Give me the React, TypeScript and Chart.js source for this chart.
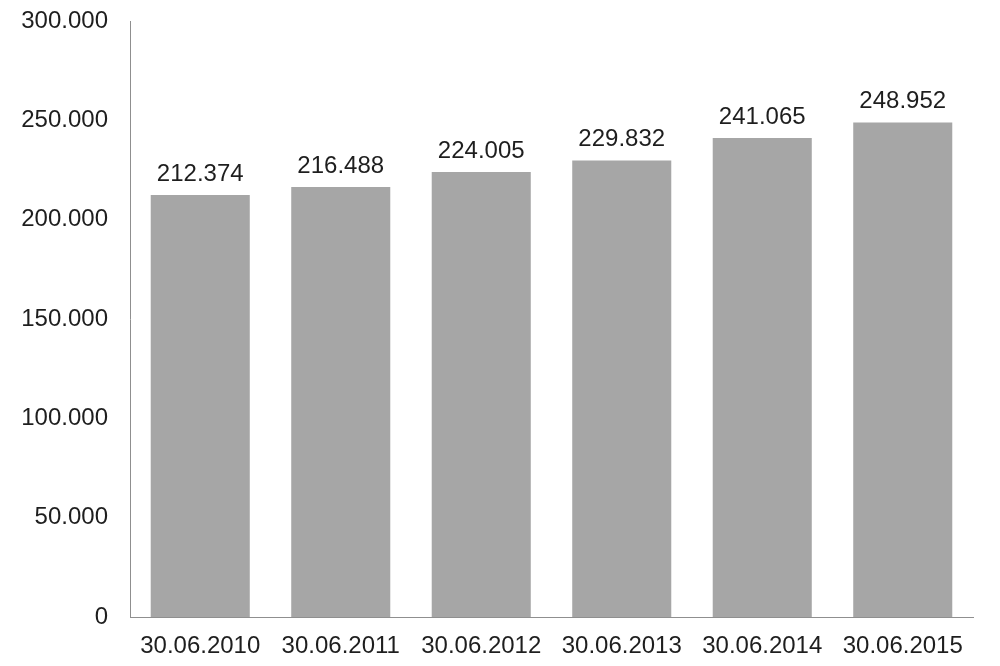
import React, { useEffect, useRef } from "react";
import { Chart, registerables } from "chart.js";

Chart.register(...registerables);

const categories = ["30.06.2010", "30.06.2011", "30.06.2012", "30.06.2013", "30.06.2014", "30.06.2015"];
const values = [212374, 216488, 224005, 229832, 241065, 248952];
const yMax = 300000;
const yStep = 50000;

const fmt = (v: number) => {
  const s = Math.round(v).toString();
  return s.replace(/\B(?=(\d{3})+(?!\d))/g, ".");
};

const FONT = "'Liberation Sans', Arial, sans-serif";
const TEXT = "#1e1e1e";

const dataLabels = {
  id: "dataLabels",
  afterDatasetsDraw(chart: any) {
    const ctx = chart.ctx;
    const meta = chart.getDatasetMeta(0);
    ctx.save();
    ctx.font = `24px ${FONT}`;
    ctx.fillStyle = TEXT;
    ctx.textAlign = "center";
    ctx.textBaseline = "alphabetic";
    meta.data.forEach((bar: any, i: number) => {
      ctx.fillText(fmt(values[i]), bar.x, bar.y - 14);
    });
    ctx.restore();
  },
};

export default function App() {
  const ref = useRef<HTMLCanvasElement | null>(null);
  useEffect(() => {
    if (!ref.current) return;
    const chart = new Chart(ref.current, {
      type: "bar",
      data: {
        labels: categories,
        datasets: [
          {
            data: values,
            backgroundColor: "#a6a6a6",
            borderWidth: 0,
            barPercentage: 0.705,
            categoryPercentage: 1,
          },
        ],
      },
      options: {
        animation: false,
        responsive: false,
        maintainAspectRatio: false,
        layout: { padding: { top: 21, right: 27, left: 0, bottom: 0 } },
        plugins: { legend: { display: false }, tooltip: { enabled: false } },
        scales: {
          x: {
            grid: { display: false, drawTicks: false },
            border: { display: true, color: "#8f8f8f", width: 1 },
            ticks: {
              color: TEXT,
              font: { family: FONT, size: 24 },
              padding: 15,
              maxRotation: 0,
              autoSkip: false,
            },
            afterFit(scale: any) {
              scale.height = 49;
              scale.paddingLeft = 0;
              scale.paddingRight = 0;
            },
          },
          y: {
            min: 0,
            max: yMax,
            grid: { display: false, drawTicks: false },
            border: { display: true, color: "#8f8f8f", width: 1 },
            ticks: {
              stepSize: yStep,
              color: TEXT,
              font: { family: FONT, size: 24 },
              padding: 22,
              callback: (v: any) => fmt(Number(v)),
            },
            afterFit(scale: any) {
              scale.width = 130;
              scale.paddingTop = 0;
              scale.paddingBottom = 0;
            },
          },
        },
      },
      plugins: [dataLabels],
    });
    return () => chart.destroy();
  }, []);
  return (
    <div style={{ position: "fixed", left: 0, top: 0, width: 1000, height: 666, background: "#fff" }}>
      <canvas ref={ref} width={1000} height={666} style={{ display: "block" }} />
    </div>
  );
}
